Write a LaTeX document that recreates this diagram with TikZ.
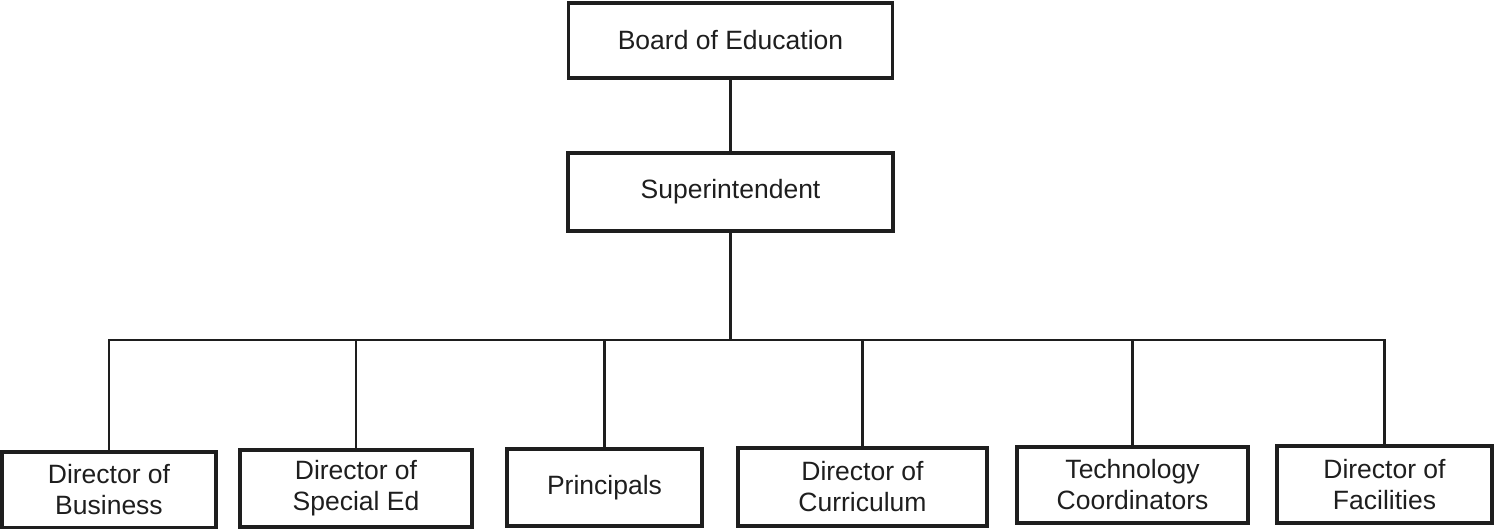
\documentclass[tikz,border=0pt]{standalone}
\usepackage{fontspec}
\setmainfont{Liberation Sans}
\definecolor{ink}{HTML}{1E1E1E}
\begin{document}
\begin{tikzpicture}[x=1pt,y=-1pt,
  orgbox/.style={draw=ink,line width=3.8pt,rectangle,inner sep=0pt,align=center,
    text=ink,font=\fontsize{26.5}{31}\selectfont},
  link/.style={draw=ink,line width=2.4pt}]
\useasboundingbox (0,0) rectangle (1494,529);
\node[orgbox,minimum width=324pt,minimum height=75pt] (board) at (730.5,40.5) {Board of Education};
\node[orgbox,minimum width=325pt,minimum height=78pt] (sup) at (730.5,192) {Superintendent};
\coordinate (bar) at (730.5,340);
\node[orgbox,minimum width=214pt,minimum height=76pt] (b1) at (109,490) {Director of\\Business};
\node[orgbox,minimum width=232pt,minimum height=77pt] (b2) at (356,488.5) {Director of\\Special Ed};
\node[orgbox,minimum width=195pt,minimum height=77pt] (b3) at (604.5,487.5) {Principals};
\node[orgbox,minimum width=249pt,minimum height=78pt] (b4) at (862.5,487) {Director of\\Curriculum};
\node[orgbox,minimum width=231pt,minimum height=76pt] (b5) at (1132.5,485) {Technology\\Coordinators};
\node[orgbox,minimum width=215pt,minimum height=77pt] (b6) at (1384.5,484.5) {Director of\\Facilities};
\draw[link] (board.south) -- (sup.north);
\draw[link] (sup.south) -- (bar);
\draw[link] (b1.north) -- (b1.north |- bar) -- (b6.north |- bar) -- (b6.north);
\foreach \n in {b2,b3,b4,b5} \draw[link] (\n.north) -- (\n.north |- bar);
\end{tikzpicture}
\end{document}
